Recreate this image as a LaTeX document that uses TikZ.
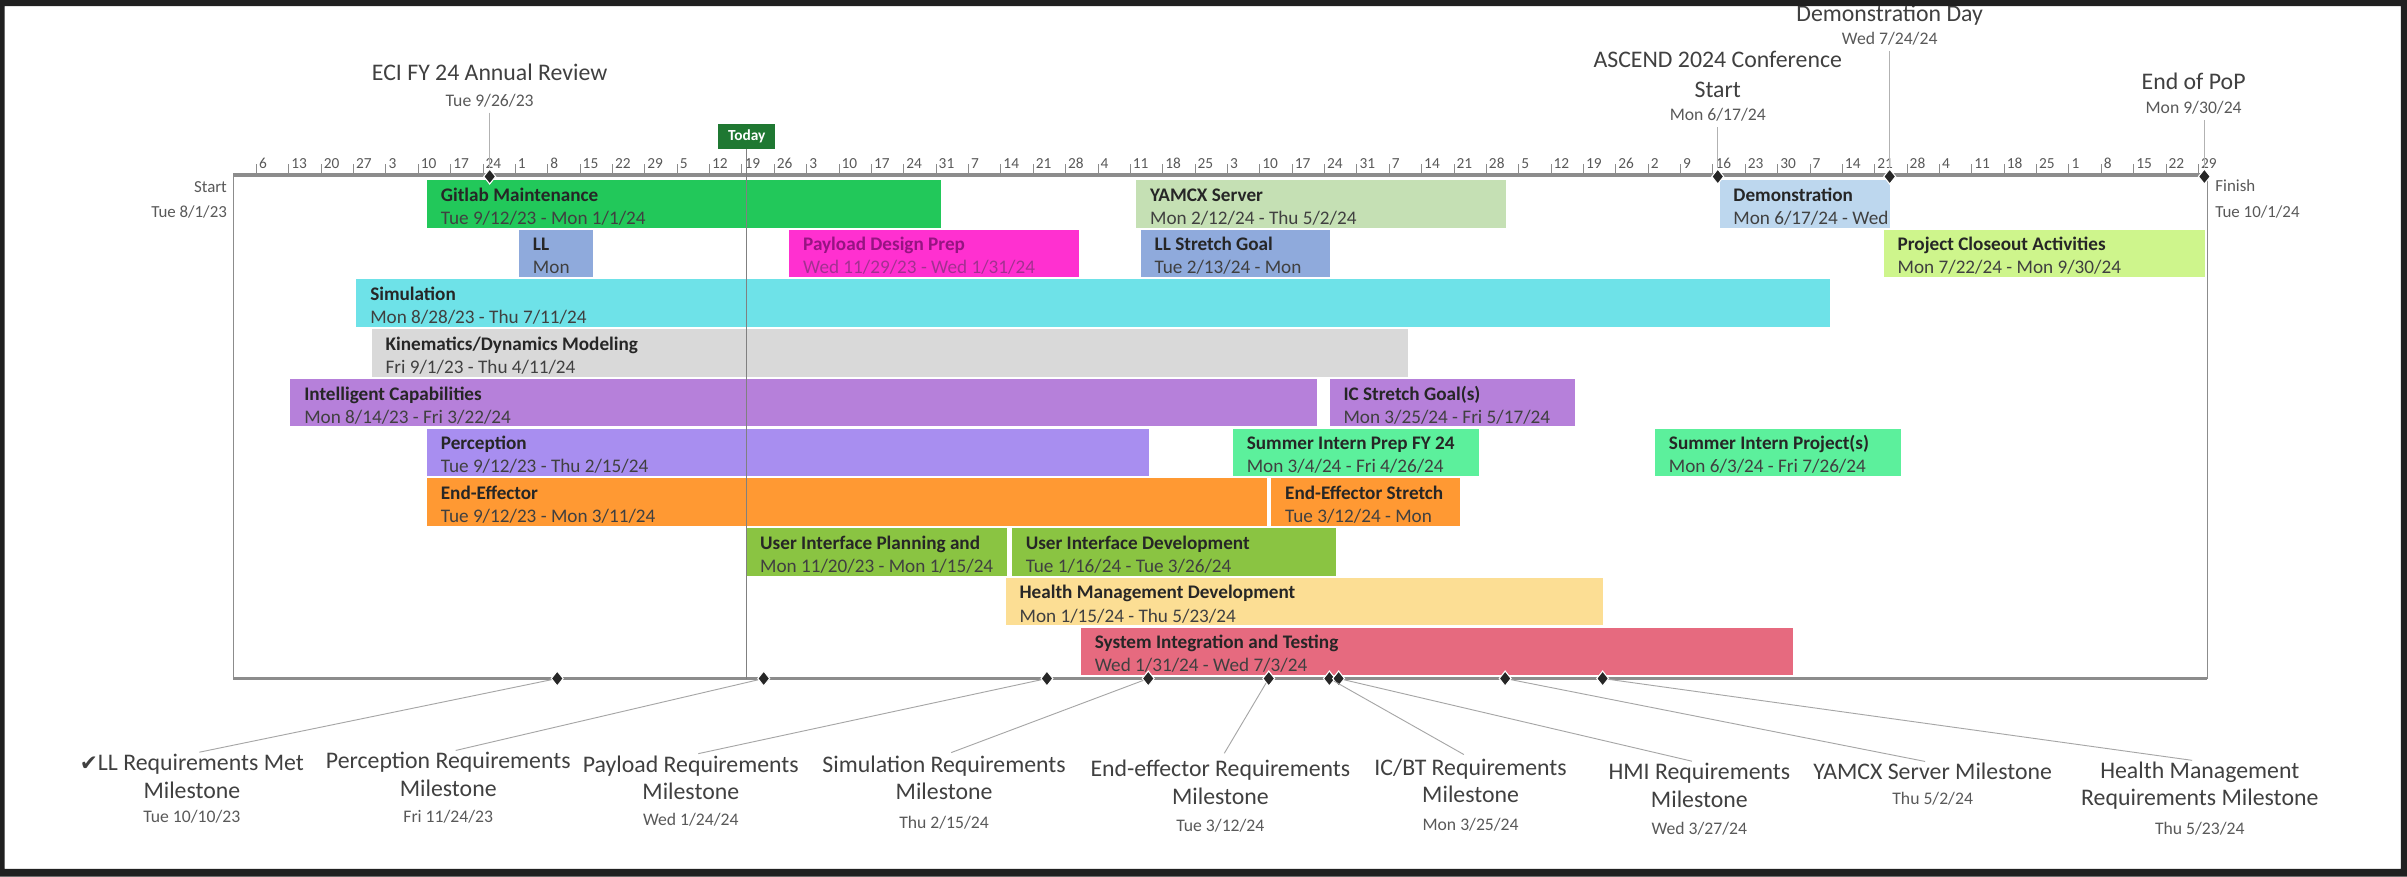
\documentclass[tikz,border=0pt]{standalone}
\usepackage{fontspec}
\setmainfont{Carlito}
\newfontfamily\checkfont{DejaVu Sans}
\usetikzlibrary{positioning, shapes.geometric}

\definecolor{framegray}{RGB}{32,32,32}
\definecolor{axisgray}{RGB}{140,140,140}
\definecolor{labelgray}{RGB}{64,64,64}
\definecolor{dategray}{RGB}{89,89,89}
\definecolor{barink}{RGB}{38,38,38}
\definecolor{payink}{RGB}{150,20,130}
\definecolor{todaygreen}{RGB}{31,120,50}
\definecolor{gitlab}{RGB}{34,200,90}
\definecolor{yamcx}{RGB}{197,224,180}
\definecolor{demo}{RGB}{189,215,238}
\definecolor{llblue}{RGB}{143,170,220}
\definecolor{payload}{RGB}{255,48,208}
\definecolor{closeout}{RGB}{206,245,140}
\definecolor{sim}{RGB}{110,226,232}
\definecolor{kin}{RGB}{217,217,217}
\definecolor{icpurple}{RGB}{182,128,218}
\definecolor{percep}{RGB}{168,142,240}
\definecolor{intern}{RGB}{92,240,156}
\definecolor{ee}{RGB}{255,153,51}
\definecolor{ui}{RGB}{138,196,66}
\definecolor{health}{RGB}{252,222,148}
\definecolor{sit}{RGB}{230,106,127}

\tikzset{
bar/.style={anchor=north west, inner sep=0pt, minimum height=31pt}, % one task of the schedule
bartitle/.style={anchor=base west, inner sep=0pt, font=\fontsize{12.5}{15}\selectfont\bfseries},
bardate/.style={anchor=base west, inner sep=0pt, font=\fontsize{12.5}{15}\selectfont},
ms/.style={diamond, fill=black!85, draw=white, line width=0.7pt, inner sep=0pt, minimum width=8pt, minimum height=10pt}, % milestone marker
mstitle/.style={inner sep=0pt, text=labelgray, text height=10.5pt, text depth=0pt, font=\fontsize{15.5}{18}\selectfont},
mslabel/.style={anchor=north, align=center, inner sep=0pt, text=labelgray, font=\fontsize{15.5}{18}\selectfont},
msdate/.style={inner sep=0pt, text=dategray, text height=7.5pt, text depth=0pt, font=\fontsize{11.5}{13}\selectfont},
sidelabel/.style={inner sep=0pt, text=dategray, font=\fontsize{11}{13}\selectfont},
weeklabel/.style={anchor=base west, inner sep=0pt, xshift=1.5pt, text=dategray, font=\fontsize{10}{12}\selectfont},
tick/.style={draw=axisgray, line width=0.6pt},
axis/.style={draw=axisgray, line width=2.5pt}, % the time scale
boxline/.style={draw=axisgray, line width=1pt},
stem/.style={draw=gray!60, line width=0.6pt, shorten <=4pt},
leader/.style={draw=gray!70, line width=0.6pt, shorten >=5pt}, % milestone to its label
today/.style={fill=todaygreen, text=white, inner sep=0pt, minimum width=37pt, minimum height=16pt, font=\fontsize{10}{12}\selectfont\bfseries},
}

% #1 text colour, #2 name, #3 start x, #4 end x, #5 row, #6 fill, #7 title, #8 dates
\newcommand\ganttbar[8][barink]{%
  \pgfmathsetmacro\rowtop{117+32.4*(#5-1)}%
  \pgfmathsetmacro\barlen{#4-#3}%
  \node[bar, fill=#6, minimum width=\barlen pt] (#2) at (#3,\rowtop) {};
  \node[bartitle, text=#1] (#2-t) at ([shift={(9,14)}]#2.north west) {#7};
  \node[bardate, text=#1!88!white] (#2-d) at ([shift={(9,29)}]#2.north west) {#8};
}

\begin{document}
\begin{tikzpicture}[x=1pt, y=-1pt]
  \useasboundingbox (0,0) rectangle (1568,571);
  \fill[white] (0,0) rectangle (1568,571);

  % frame of the timeline
  \coordinate (start) at (152,114);
  \coordinate (finish) at (1438,114);
  \coordinate (start-b) at (152,442);
  \coordinate (finish-b) at (1438,442);
  \draw[boxline] (start) -- (start-b);
  \draw[boxline] (finish) -- (finish-b);
  \draw[axis, line width=2pt] (start-b) -- (finish-b);

  % weeks
  \foreach \d [count=\i from 0] in {6,13,20,27,3,10,17,24,1,8,15,22,29,5,12,19,26,3,10,17,24,31,7,14,21,28,4,11,18,25,3,10,17,24,31,7,14,21,28,5,12,19,26,2,9,16,23,30,7,14,21,28,4,11,18,25,1,8,15,22,29} {
    \pgfmathsetmacro\tx{152+3.012*(5+7*\i)}
    \draw[tick] (\tx,114) -- (\tx,107);
    \node[weeklabel] (w\i) at (\tx,110) {\d};
  }
  \draw[axis] (start) -- (finish);

  \node[sidelabel, anchor=east] (start-l) at (148,122) {Start};
  \node[sidelabel, anchor=east] (start-d) at (148,138) {Tue 8/1/23};
  \node[sidelabel, anchor=west] (finish-l) at (1443,121) {Finish};
  \node[sidelabel, anchor=west] (finish-d) at (1443,138) {Tue 10/1/24};

  % tasks
  \ganttbar{gitlab}{278}{613}{1}{gitlab}{Gitlab Maintenance}{Tue 9/12/23 - Mon 1/1/24}
  \ganttbar{yamcx}{740}{981}{1}{yamcx}{YAMCX Server}{Mon 2/12/24 - Thu 5/2/24}
  \ganttbar{demo}{1120}{1231}{1}{demo}{Demonstration}{Mon 6/17/24 - Wed}
  \ganttbar{ll}{338}{386}{2}{llblue}{LL}{Mon}
  \ganttbar[payink]{payload}{514}{703}{2}{payload}{Payload Design Prep}{Wed 11/29/23 - Wed 1/31/24}
  \ganttbar{llstretch}{743}{866}{2}{llblue}{LL Stretch Goal}{Tue 2/13/24 - Mon}
  \ganttbar{closeout}{1227}{1436}{2}{closeout}{Project Closeout Activities}{Mon 7/22/24 - Mon 9/30/24}
  \ganttbar{sim}{232}{1192}{3}{sim}{Simulation}{Mon 8/28/23 - Thu 7/11/24}
  \ganttbar{kin}{242}{917}{4}{kin}{Kinematics/Dynamics Modeling}{Fri 9/1/23 - Thu 4/11/24}
  \ganttbar{ic}{189}{858}{5}{icpurple}{Intelligent Capabilities}{Mon 8/14/23 - Fri 3/22/24}
  \ganttbar{icstretch}{866}{1026}{5}{icpurple}{IC Stretch Goal(s)}{Mon 3/25/24 - Fri 5/17/24}
  \ganttbar{percep}{278}{748}{6}{percep}{Perception}{Tue 9/12/23 - Thu 2/15/24}
  \ganttbar{sumprep}{803}{963}{6}{intern}{Summer Intern Prep FY 24}{Mon 3/4/24 - Fri 4/26/24}
  \ganttbar{sumproj}{1078}{1238}{6}{intern}{Summer Intern Project(s)}{Mon 6/3/24 - Fri 7/26/24}
  \ganttbar{ee}{278}{825}{7}{ee}{End-Effector}{Tue 9/12/23 - Mon 3/11/24}
  \ganttbar{eestretch}{828}{951}{7}{ee}{End-Effector Stretch}{Tue 3/12/24 - Mon}
  \ganttbar{uiplan}{486}{656}{8}{ui}{User Interface Planning and}{Mon 11/20/23 - Mon 1/15/24}
  \ganttbar{uidev}{659}{870}{8}{ui}{User Interface Development}{Tue 1/16/24 - Tue 3/26/24}
  \ganttbar{health}{655}{1044}{9}{health}{Health Management Development}{Mon 1/15/24 - Thu 5/23/24}
  \ganttbar{sit}{704}{1168}{10}{sit}{System Integration and Testing}{Wed 1/31/24 - Wed 7/3/24}

  % today
  \node[today] (today) at (486.5,89) {Today};
  \draw[draw=gray, line width=0.6pt] (today.south) -- (today.south |- start-b);

  % milestones above the scale
  \node[ms] (m-eci) at (319,115) {};
  \node[mstitle] (eci) at (319,47) {ECI FY 24 Annual Review};
  \node[msdate, below=9pt of eci] (eci-d) {Tue 9/26/23};
  \draw[stem] (eci-d.south) -- (m-eci.north);

  \node[ms] (m-ascend) at (1119,115) {};
  \node[mstitle] (ascend) at (1119,39) {ASCEND 2024 Conference};
  \node[mstitle, below=8.5pt of ascend] (ascend-2) {Start};
  \node[msdate, below=7pt of ascend-2] (ascend-d) {Mon 6/17/24};
  \draw[stem] (ascend-d.south) -- (m-ascend.north);

  \node[ms] (m-demo) at (1231,115) {};
  \node[mstitle] (demoday) at (1231,9) {Demonstration Day};
  \node[msdate, below=7pt of demoday] (demoday-d) {Wed 7/24/24};
  \draw[stem] (demoday-d.south) -- (m-demo.north);

  \node[ms] (m-pop) at (1436,115) {};
  \node[mstitle] (pop) at (1429,53) {End of PoP};
  \node[msdate, below=8pt of pop] (pop-d) {Mon 9/30/24};
  \draw[stem] (pop-d.south -| m-pop) -- (m-pop.north);

  % milestones below the chart
  \node[ms] (m-ll) at (363,442) {};
  \node[ms] (m-per) at (497.5,442) {};
  \node[ms] (m-pay) at (682,442) {};
  \node[ms] (m-sim) at (748,442) {};
  \node[ms] (m-ee) at (826.5,442) {};
  \node[ms] (m-ic) at (866,442) {};
  \node[ms] (m-hmi) at (872,442) {};
  \node[ms] (m-yam) at (980.5,442) {};
  \node[ms] (m-hm) at (1044,442) {};

  \node[mslabel] (l-ll) at (125,491) {{\checkfont\fontsize{14}{18}\selectfont ✔}LL Requirements Met\\Milestone};
  \node[msdate] (l-ll-d) at (125,532) {Tue 10/10/23};
  \node[mslabel] (l-per) at (292,490) {Perception Requirements\\Milestone};
  \node[msdate] (l-per-d) at (292,532) {Fri 11/24/23};
  \node[mslabel] (l-pay) at (450,492) {Payload Requirements\\Milestone};
  \node[msdate] (l-pay-d) at (450,534) {Wed 1/24/24};
  \node[mslabel] (l-sim) at (615,492) {Simulation Requirements\\Milestone};
  \node[msdate] (l-sim-d) at (615,536) {Thu 2/15/24};
  \node[mslabel] (l-ee) at (795,495) {End-effector Requirements\\Milestone};
  \node[msdate] (l-ee-d) at (795,538) {Tue 3/12/24};
  \node[mslabel] (l-ic) at (958,494) {IC/BT Requirements\\Milestone};
  \node[msdate] (l-ic-d) at (958,537) {Mon 3/25/24};
  \node[mslabel] (l-hmi) at (1107,497) {HMI Requirements\\Milestone};
  \node[msdate] (l-hmi-d) at (1107,540) {Wed 3/27/24};
  \node[mslabel] (l-yam) at (1259,497) {YAMCX Server Milestone};
  \node[msdate] (l-yam-d) at (1259,520) {Thu 5/2/24};
  \node[mslabel] (l-hm) at (1433,496) {Health Management\\Requirements Milestone};
  \node[msdate] (l-hm-d) at (1433,540) {Thu 5/23/24};

  \draw[leader] (m-ll) -- (l-ll.north);
  \draw[leader] (m-per) -- (l-per.north);
  \draw[leader] (m-pay) -- (l-pay.north);
  \draw[leader] (m-sim) -- (l-sim.north);
  \draw[leader] (m-ee) -- (l-ee.north);
  \draw[leader] (m-ic) -- (l-ic.north);
  \draw[leader] (m-hmi) -- (l-hmi.north);
  \draw[leader] (m-yam) -- (l-yam.north);
  \draw[leader] (m-hm) -- (l-hm.north);

  % dark border of the screenshot
  \fill[framegray, even odd rule] (0,0) rectangle (1568,571) (3,4) rectangle (1564,566);
\end{tikzpicture}
\end{document}
